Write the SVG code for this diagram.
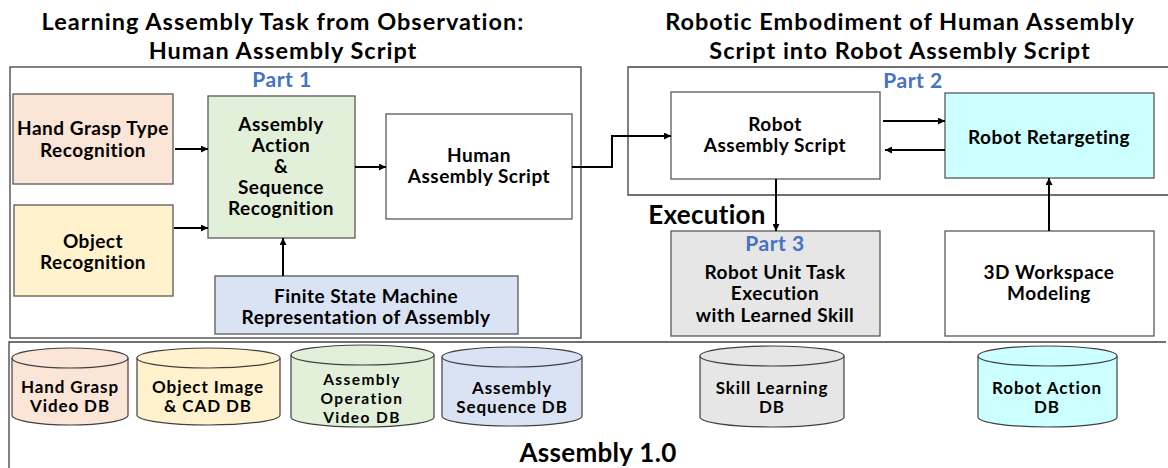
<svg xmlns="http://www.w3.org/2000/svg" width="1168" height="468" viewBox="0 0 1168 468">
<defs>
<marker id="ah" viewBox="0 0 10 10" refX="10" refY="5" markerWidth="7" markerHeight="7" markerUnits="userSpaceOnUse" orient="auto">
<path d="M0,0 L10,5 L0,10 z" fill="#000"/>
</marker>
</defs>
<style>
text{font-family:Lato,"Open Sans",sans-serif;font-weight:bold;fill:#000;text-anchor:middle}
.t{font-size:19px;letter-spacing:0.5px}
.c{font-size:17px;letter-spacing:0.9px}
.c3{font-size:15.5px;letter-spacing:1.4px}
.title{font-size:23.5px;letter-spacing:1px}
.big{font-size:26px;letter-spacing:0.3px}
.part{font-size:21px;letter-spacing:0.5px;fill:#4472C4}
.box{stroke:#595959;stroke-width:1.3}
.frame{fill:none;stroke:#404040;stroke-width:1.3}
.con{fill:none;stroke:#000;stroke-width:2}
.cyl{stroke:#404040;stroke-width:1.2}
</style>
<rect width="1168" height="468" fill="#fff"/>

<g id="titles">
<text class="title" x="283" y="30">Learning Assembly Task from Observation:</text>
<text class="title" x="283" y="59">Human Assembly Script</text>
<text class="title" x="900" y="30">Robotic Embodiment of Human Assembly</text>
<text class="title" x="900" y="59">Script into Robot Assembly Script</text>
</g>

<g id="frames">
<rect class="frame" x="10" y="67" width="571" height="271"/>
<path class="frame" d="M1168,67 H628 V195 H1168"/>
<path class="frame" d="M1166,342 H9 V468"/>
<text class="part" x="282" y="87">Part 1</text>
<text class="part" x="913" y="88">Part 2</text>
<text class="big" x="707" y="224">Execution</text>
<text class="big" x="598" y="462">Assembly 1.0</text>
</g>

<g id="hand-grasp">
<rect class="box" x="13" y="94" width="160" height="90" fill="#FBE5D6"/>
<text class="t" x="93" y="135">Hand Grasp Type</text>
<text class="t" x="93" y="157">Recognition</text>
</g>
<g id="object-recognition">
<rect class="box" x="14" y="205" width="159" height="91" fill="#FFF2CC"/>
<text class="t" x="93" y="248">Object</text>
<text class="t" x="93" y="269">Recognition</text>
</g>
<g id="assembly-action">
<rect class="box" x="208" y="96" width="147" height="142" fill="#E2F0D9"/>
<text class="t" x="281" y="131">Assembly</text>
<text class="t" x="281" y="152">Action</text>
<text class="t" x="281" y="173">&amp;</text>
<text class="t" x="281" y="194">Sequence</text>
<text class="t" x="281" y="215">Recognition</text>
</g>
<g id="fsm">
<rect class="box" x="215" y="276" width="303" height="58" fill="#DAE3F3"/>
<text class="t" x="366" y="303">Finite State Machine</text>
<text class="t" x="366" y="324">Representation of Assembly</text>
</g>
<g id="human-script">
<rect class="box" x="386" y="114" width="186" height="105" fill="#fff"/>
<text class="t" x="479" y="162">Human</text>
<text class="t" x="479" y="183">Assembly Script</text>
</g>
<g id="robot-script">
<rect class="box" x="671" y="92" width="209" height="87" fill="#fff"/>
<text class="t" x="775" y="131">Robot</text>
<text class="t" x="775" y="152">Assembly Script</text>
</g>
<g id="robot-retargeting">
<rect class="box" x="945" y="93" width="209" height="85" fill="#CCFFFF"/>
<text class="t" x="1049" y="144">Robot Retargeting</text>
</g>
<g id="unit-task">
<rect class="box" x="671" y="231" width="209" height="105" fill="#E7E6E6"/>
<text class="part" x="775" y="251">Part 3</text>
<text class="t" x="775" y="279">Robot Unit Task</text>
<text class="t" x="775" y="300">Execution</text>
<text class="t" x="775" y="322">with Learned Skill</text>
</g>
<g id="workspace">
<rect class="box" x="945" y="231" width="209" height="105" fill="#fff"/>
<text class="t" x="1049" y="279">3D Workspace</text>
<text class="t" x="1049" y="300">Modeling</text>
</g>

<g id="db-hand">
<path class="cyl" d="M12,358 V415 A58,10 0 0 0 128,415 V358 A58,10 0 0 0 12,358 Z" fill="#FBE5D6"/>
<path class="cyl" d="M12,358 A58,10 0 0 0 128,358" fill="none"/>
<text class="c" x="70" y="393">Hand Grasp</text>
<text class="c" x="70" y="412">Video DB</text>
</g>
<g id="db-object">
<path class="cyl" d="M137,358 V415 A71.5,10 0 0 0 280,415 V358 A71.5,10 0 0 0 137,358 Z" fill="#FFF2CC"/>
<path class="cyl" d="M137,358 A71.5,10 0 0 0 280,358" fill="none"/>
<text class="c" x="208" y="393">Object Image</text>
<text class="c" x="208" y="412">&amp; CAD DB</text>
</g>
<g id="db-operation">
<path class="cyl" d="M291,355 V417 A71.5,10 0 0 0 434,417 V355 A71.5,10 0 0 0 291,355 Z" fill="#E2F0D9"/>
<path class="cyl" d="M291,355 A71.5,10 0 0 0 434,355" fill="none"/>
<text class="c3" x="362" y="385">Assembly</text>
<text class="c3" x="362" y="404">Operation</text>
<text class="c3" x="362" y="423">Video DB</text>
</g>
<g id="db-sequence">
<path class="cyl" d="M442,357 V416 A70,10 0 0 0 582,416 V357 A70,10 0 0 0 442,357 Z" fill="#DAE3F3"/>
<path class="cyl" d="M442,357 A70,10 0 0 0 582,357" fill="none"/>
<text class="c" x="512" y="394">Assembly</text>
<text class="c" x="512" y="413">Sequence DB</text>
</g>
<g id="db-skill">
<path class="cyl" d="M700,356 V417 A72,10 0 0 0 844,417 V356 A72,10 0 0 0 700,356 Z" fill="#E7E6E6"/>
<path class="cyl" d="M700,356 A72,10 0 0 0 844,356" fill="none"/>
<text class="c" x="772" y="394">Skill Learning</text>
<text class="c" x="772" y="413">DB</text>
</g>
<g id="db-robot-action">
<path class="cyl" d="M978,356 V417 A69.5,10 0 0 0 1117,417 V356 A69.5,10 0 0 0 978,356 Z" fill="#CCFFFF"/>
<path class="cyl" d="M978,356 A69.5,10 0 0 0 1117,356" fill="none"/>
<text class="c" x="1047" y="394">Robot Action</text>
<text class="c" x="1047" y="413">DB</text>
</g>

<g id="connectors">
<path class="con" d="M175,149 H208" marker-end="url(#ah)"/>
<path class="con" d="M174,228 H208" marker-end="url(#ah)"/>
<path class="con" d="M283,276 V238" marker-end="url(#ah)"/>
<path class="con" d="M355,167 H386" marker-end="url(#ah)"/>
<path class="con" d="M572,167 H612 V136 H671" marker-end="url(#ah)"/>
<path class="con" d="M883,121 H945" marker-end="url(#ah)"/>
<path class="con" d="M945,150 H885" marker-end="url(#ah)"/>
<path class="con" d="M776,179 V231" marker-end="url(#ah)"/>
<path class="con" d="M1049,231 V178" marker-end="url(#ah)"/>
</g>
</svg>
